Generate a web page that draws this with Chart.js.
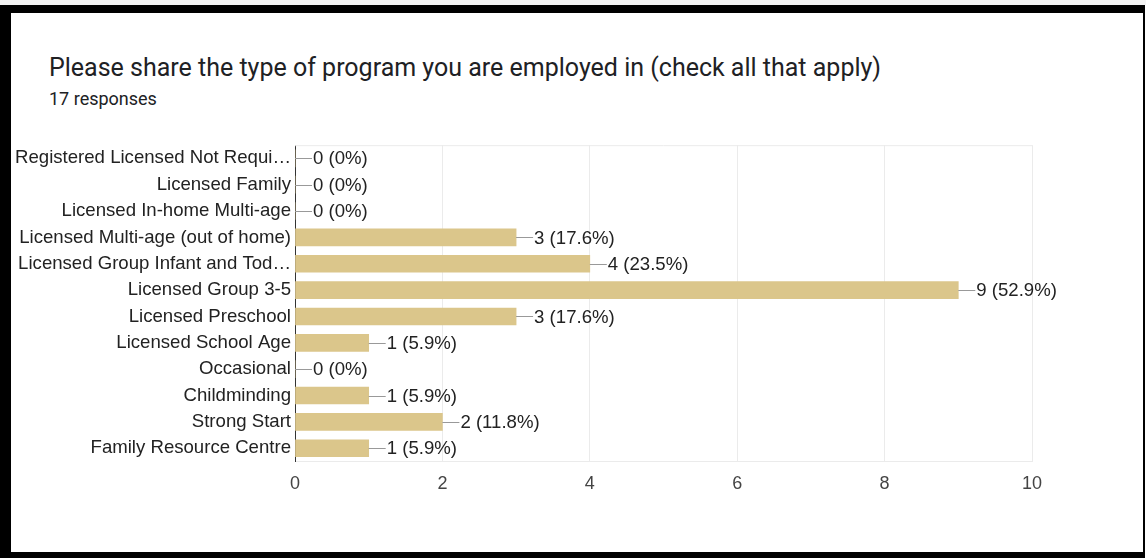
<!DOCTYPE html>
<html>
<head>
<meta charset="utf-8">
<script src="https://cdn.jsdelivr.net/npm/chart.js@4/dist/chart.umd.min.js"></script>
<style>
  html, body { margin:0; padding:0; background:#fff; width:1146px; height:558px; overflow:hidden; }
  #strip { position:absolute; left:0; top:0; width:1146px; height:5px; background:#f3f3f3; }
  #frame { position:absolute; left:0; top:5px; width:1132px; height:539px; border-style:solid; border-color:#000; border-width:8px 2px 6px 11px; }
  #title { position:absolute; left:49px; top:53px; font-family:Roboto, "Noto Sans", sans-serif; font-size:25px; color:#202124; }
  #sub { position:absolute; left:49px; top:88px; font-family:Roboto, "Noto Sans", sans-serif; font-size:18px; color:#202124; }
  #wrap { position:absolute; left:0; top:130px; width:1146px; height:377px; }
</style>
</head>
<body>
<div id="strip"></div>
<div id="frame"></div>
<div id="title">Please share the type of program you are employed in (check all that apply)</div>
<div id="sub">17 responses</div>
<div id="wrap"><canvas id="c"></canvas></div>
<script>
const categories = [
  "Registered Licensed Not Requi…",
  "Licensed Family",
  "Licensed In-home Multi-age",
  "Licensed Multi-age (out of home)",
  "Licensed Group Infant and Tod…",
  "Licensed Group 3-5",
  "Licensed Preschool",
  "Licensed School Age",
  "Occasional",
  "Childminding",
  "Strong Start",
  "Family Resource Centre"
];
const counts = [0, 0, 0, 3, 4, 9, 3, 1, 0, 1, 2, 1];
const percents = ["0%", "0%", "0%", "17.6%", "23.5%", "52.9%", "17.6%", "5.9%", "0%", "5.9%", "11.8%", "5.9%"];
const xTicks = [0, 2, 4, 6, 8, 10];

const labelFont = '18.6px "Liberation Sans", Arial, sans-serif';

const leaderPlugin = {
  id: 'leader',
  afterDatasetsDraw(chart) {
    const ctx = chart.ctx;
    const meta = chart.getDatasetMeta(0);
    ctx.save();
    meta.data.forEach((bar, i) => {
      const x0 = bar.x, y = bar.y;
      ctx.strokeStyle = '#999';
      ctx.lineWidth = 1;
      ctx.beginPath();
      ctx.moveTo(x0, Math.round(y) + 0.5);
      ctx.lineTo(x0 + 17, Math.round(y) + 0.5);
      ctx.stroke();
      ctx.fillStyle = '#222';
      ctx.font = labelFont;
      ctx.textBaseline = 'middle';
      ctx.textAlign = 'left';
      ctx.fillText(counts[i] + ' (' + percents[i] + ')', x0 + 18, y + 1);
    });
    ctx.restore();
  }
};

new Chart(document.getElementById('c'), {
  type: 'bar',
  data: {
    labels: categories,
    datasets: [{
      data: counts,
      backgroundColor: '#dbc68b',
      borderWidth: 0,
      barThickness: 17
    }]
  },
  options: {
    indexAxis: 'y',
    responsive: true,
    maintainAspectRatio: false,
    animation: false,
    layout: { padding: { left: 0, right: 114, top: 13, bottom: 0 } },
    plugins: { legend: { display: false }, tooltip: { enabled: false } },
    scales: {
      x: {
        min: 0, max: 10,
        afterBuildTicks: s => { s.ticks = xTicks.map(v => ({ value: v })); },
        grid: { color: '#ebebeb', lineWidth: 1, drawTicks: false },
        border: { display: true, color: '#ebebeb', width: 1 },
        ticks: { color: '#444', font: { family: '"Liberation Sans", Arial, sans-serif', size: 18 }, padding: 12 }
      },
      y: {
        afterFit: s => { s.width = 295; },
        grid: { display: false, drawTicks: false },
        border: { display: true, color: '#333', width: 1 },
        ticks: { color: '#222', font: { family: '"Liberation Sans", Arial, sans-serif', size: 18.6 }, padding: 4, autoSkip: false }
      }
    }
  },
  plugins: [leaderPlugin, {
    id: 'topBorder',
    beforeDatasetsDraw(chart) {
      const a = chart.chartArea, ctx = chart.ctx;
      ctx.save();
      ctx.strokeStyle = '#ebebeb';
      ctx.lineWidth = 1;
      ctx.beginPath();
      ctx.moveTo(a.left, a.top + 0.5);
      ctx.lineTo(a.right, a.top + 0.5);
      ctx.stroke();
      ctx.restore();
    }
  }]
});
</script>
</body>
</html>
